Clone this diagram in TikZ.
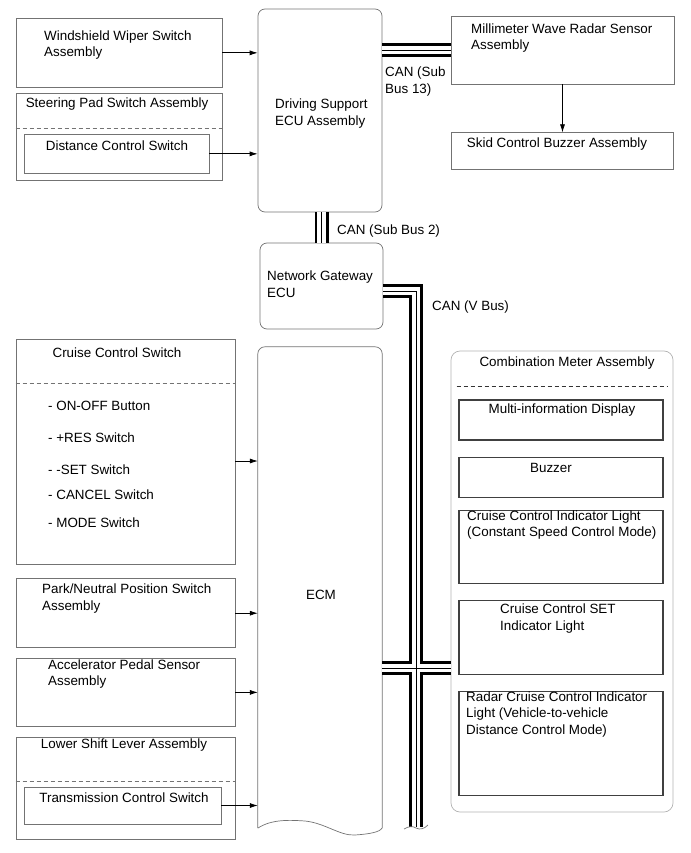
\documentclass[tikz,border=0pt]{standalone}
\usepackage{fontspec}
\setmainfont{Liberation Sans}
\usetikzlibrary{arrows.meta,positioning}

\begin{document}
\begin{tikzpicture}[
  x=1pt, y=-1pt,
  font=\fontsize{13.4}{16.5}\selectfont,
  box/.style={rectangle, draw=black!55, line width=0.7pt, inner sep=0pt},
  inbox/.style={rectangle, draw=black!75, line width=1.1pt, inner sep=0pt},
  ecu/.style={rectangle, draw=black!55, line width=0.7pt, rounded corners=7pt, inner sep=0pt},
  txt/.style={inner sep=0pt, align=left, anchor=west},
  ctxt/.style={inner sep=0pt, align=center},
  sep/.style={draw=black!55, dashed, dash pattern=on 4pt off 3pt, line width=0.7pt},
  arr/.style={-{Latex[length=8pt,width=5pt]}, line width=0.7pt}
]
  \useasboundingbox (0,0) rectangle (690,853);

  % left column, upper part
  \node[box, minimum width=206, minimum height=68.3] (wiper) at (119,52.85) {};
  \node[box, minimum width=206, minimum height=87, below=6pt of wiper] (steer) {};
  \node[box, minimum width=185, minimum height=38.3] (dcs) at (116.5,153.85) {};
  \draw[sep] ([yshift=-35pt]steer.north west) -- ([yshift=-35pt]steer.north east);
  \node[txt] (wiperT) at (44,45) {Windshield Wiper Switch\\Assembly};
  \node[ctxt] (steerT) at (117,104) {Steering Pad Switch Assembly};
  \node[ctxt] (dcsT) at (117,146) {Distance Control Switch};

  % ECUs
  \node[ecu, minimum width=124, minimum height=203] (dsecu) at (320,110.5) {};
  \node[txt] (dsecuT) at (275,113.5) {Driving Support\\ECU Assembly};
  \node[ecu, minimum width=123, minimum height=86] (ngecu) at (321.5,286) {};
  \node[txt] (ngecuT) at (267,284) {Network Gateway\\ECU};

  % radar side
  \node[box, minimum width=223, minimum height=68] (radar) at (562.5,50) {};
  \node[box, minimum width=222, minimum height=37, below=48pt of radar] (skid) {};
  \node[txt] (radarT) at (471,38) {Millimeter Wave Radar Sensor\\Assembly};
  \node[ctxt] (skidT) at (557,144) {Skid Control Buzzer Assembly};
  \draw[arr] (radar.south) -- (skid.north);

  % ECM
  \node[minimum width=124, minimum height=481, inner sep=0pt] (ecm) at (320,587.5) {};
  \draw[black!55, line width=0.7pt, rounded corners=7pt]
    (ecm.south west) -- (ecm.north west) -- (ecm.north east) -- (ecm.south east);
  \draw[black!55, line width=0.7pt] (258,828) .. controls (272,819) and (290,820) .. (305,821)
    .. controls (325,823) and (340,836) .. (355,835) .. controls (370,834) and (380,832) .. (382,828);
  \node[ctxt] (ecmT) at (321,595) {ECM};

  % left column, lower part
  \node[box, minimum width=219, minimum height=225] (cruise) at (125.5,451.5) {};
  \node[box, minimum width=219, minimum height=69, below=14pt of cruise] (park) {};
  \node[box, minimum width=219, minimum height=68, below=10pt of park] (accel) {};
  \node[box, minimum width=219, minimum height=102, below=10pt of accel] (lower) {};
  \node[box, minimum width=197, minimum height=37] (tcs) at (122.5,805.5) {};
  \draw[sep] ([yshift=-45pt]cruise.north west) -- ([yshift=-45pt]cruise.north east);
  \draw[sep] ([yshift=-45pt]lower.north west) -- ([yshift=-45pt]lower.north east);
  \node[ctxt] (cruiseT) at (117,353) {Cruise Control Switch};
  \foreach \t/\y [count=\i] in {- ON-OFF Button/406, - +RES Switch/438, - -SET Switch/470,
                                 - CANCEL Switch/495, - MODE Switch/523}
    \node[txt] (item\i) at (48,\y) {\t};
  \node[txt] (parkT) at (42,598.5) {Park/Neutral Position Switch\\Assembly};
  \node[txt] (accelT) at (48,674) {Accelerator Pedal Sensor\\Assembly};
  \node[ctxt] (lowerT) at (124,745) {Lower Shift Lever Assembly};
  \node[ctxt] (tcsT) at (124,798) {Transmission Control Switch};

  % combination meter
  \node[ecu, draw=black!30, rounded corners=9pt, minimum width=222, minimum height=461] (meter) at (562,581.5) {};
  \draw[sep, draw=black!80] ([xshift=6pt, yshift=-36pt]meter.north west) -- ([xshift=-6pt, yshift=-36pt]meter.north east);
  \node[inbox, minimum width=204, minimum height=40] (mid) at (561,420) {};
  \node[inbox, minimum width=204, minimum height=40, below=16pt of mid] (buzz) {};
  \node[inbox, minimum width=204, minimum height=73, below=12pt of buzz] (ccil) {};
  \node[inbox, minimum width=204, minimum height=74, below=16pt of ccil] (setl) {};
  \node[inbox, minimum width=204, minimum height=104, below=16pt of setl] (rcil) {};
  \node[ctxt] (meterT) at (567,363) {Combination Meter Assembly};
  \node[ctxt] (midT) at (562,410) {Multi-information Display};
  \node[ctxt] (buzzT) at (551,468) {Buzzer};
  \node[txt] (ccilT) at (467,525) {Cruise Control Indicator Light\\(Constant Speed Control Mode)};
  \node[txt] (setlT) at (500,618.5) {Cruise Control SET\\Indicator Light};
  \node[txt] (rcilT) at (466,714.5) {Radar Cruise Control Indicator\\Light (Vehicle-to-vehicle\\Distance Control Mode)};

  % signal arrows
  \draw[arr] (wiper.east) -- (wiper.east -| dsecu.west);
  \draw[arr] (dcs.east) -- (dcs.east -| dsecu.west);
  \coordinate (cin) at ([yshift=-9.5pt]cruise.east);
  \draw[arr] (cin) -- (cin -| ecm.west);
  \draw[arr] (park.east) -- (park.east -| ecm.west);
  \draw[arr] (accel.east) -- (accel.east -| ecm.west);
  \draw[arr] (tcs.east) -- (tcs.east -| ecm.west);

  % CAN buses
  \coordinate (vstart) at ([yshift=-5pt]ngecu.east);
  \coordinate (vend) at (416,827);
  \coordinate (vtap) at (382,668);
  \foreach \w/\c in {14pt/black, 8.5pt/white, 0.8pt/black} {
    \draw[line width=\w, draw=\c] (radar.west) -- (radar.west -| dsecu.east);
    \draw[line width=\w, draw=\c] (ngecu.north) -- (ngecu.north |- dsecu.south);
    \draw[line width=\w, draw=\c, line join=miter] (vstart) -| (vend);
    \draw[line width=\w, draw=\c] (vtap) -- (vtap -| meter.west);
  }
  \draw[black!55, line width=0.7pt] (404,829) .. controls (409,826) and (413,826) .. (416,828)
    .. controls (420,830) and (424,829) .. (428,825);
  \node[txt] (can13) at (385,81.5) {CAN (Sub\\Bus 13)};
  \node[txt] (can2) at (337,231) {CAN (Sub Bus 2)};
  \node[txt] (canv) at (432,307) {CAN (V Bus)};
\end{tikzpicture}
\end{document}
